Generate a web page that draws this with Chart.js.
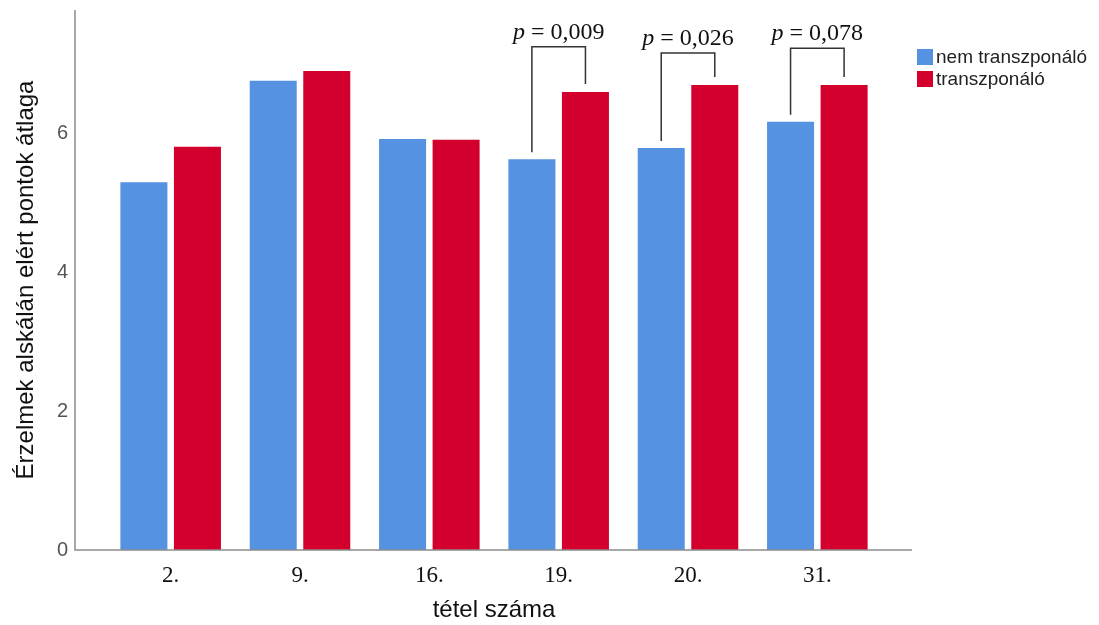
<!DOCTYPE html>
<html>
<head>
<meta charset="utf-8">
<script src="https://cdn.jsdelivr.net/npm/chart.js@4.4.0/dist/chart.umd.min.js"></script>
<style>
  body { margin: 0; background: #fff; }
  #wrap { width: 1099px; height: 625px; }
</style>
</head>
<body>
<div id="wrap"><canvas id="myChart" width="1099" height="625"></canvas></div>
<script>
var categories = ['2.', '9.', '16.', '19.', '20.', '31.'];
var nemTranszponalo = [5.30, 6.76, 5.92, 5.63, 5.79, 6.17];
var transzponalo = [5.81, 6.90, 5.91, 6.60, 6.70, 6.70];
var yTicks = [0, 2, 4, 6];

// significance brackets: category, p value, height of the bracket (axis units)
var pCats = ['19.', '20.', '31.'];
var pValues = ['0,009', '0,026', '0,078'];
var pHeights = [7.25, 7.16, 7.23];

var blue = '#5592e2';
var red = '#d3002e';
var axisGray = '#8c8c8c';

var ctx = document.getElementById('myChart').getContext('2d');

var extras = {
  id: 'extras',
  afterDatasetsDraw: function (chart) {
    var c = chart.ctx;
    var area = chart.chartArea;
    var y = chart.scales.y;

    c.save();
    // axis lines run a little past the category area
    c.strokeStyle = axisGray;
    c.lineWidth = 1.5;
    c.beginPath();
    c.moveTo(75, area.top);
    c.lineTo(75, area.bottom);
    c.lineTo(912, area.bottom);
    c.stroke();

    // p-value brackets
    var m0 = chart.getDatasetMeta(0);
    var m1 = chart.getDatasetMeta(1);
    c.strokeStyle = '#333';
    c.lineWidth = 1.5;
    c.fillStyle = '#111';
    c.textBaseline = 'alphabetic';
    pCats.forEach(function (cat, k) {
      var i = categories.indexOf(cat);
      var b = m0.data[i];
      var r = m1.data[i];
      var top = y.getPixelForValue(pHeights[k]);
      c.beginPath();
      c.moveTo(b.x, b.y - 7);
      c.lineTo(b.x, top);
      c.lineTo(r.x, top);
      c.lineTo(r.x, r.y - 8);
      c.stroke();

      var label = ' = ' + pValues[k];
      c.font = 'italic 24px "Liberation Serif"';
      var wp = c.measureText('p').width;
      c.font = '24px "Liberation Serif"';
      var wr = c.measureText(label).width;
      var x0 = (b.x + r.x) / 2 - (wp + wr) / 2;
      c.textAlign = 'left';
      c.font = 'italic 24px "Liberation Serif"';
      c.fillText('p', x0, top - 8);
      c.font = '24px "Liberation Serif"';
      c.fillText(label, x0 + wp, top - 8);
    });

    // legend
    var items = [
      { text: 'nem transzponáló', color: blue },
      { text: 'transzponáló', color: red }
    ];
    c.font = '19px "Liberation Sans"';
    c.textBaseline = 'middle';
    c.textAlign = 'left';
    items.forEach(function (it, k) {
      var cy = 57 + k * 22;
      c.fillStyle = it.color;
      c.fillRect(917, cy - 8, 16, 16);
      c.fillStyle = '#222';
      c.fillText(it.text, 936, cy + 1);
    });
    c.restore();
  }
};

var myChart = new Chart(ctx, {
  type: 'bar',
  data: {
    labels: categories,
    datasets: [{
      label: 'nem transzponáló',
      data: nemTranszponalo,
      backgroundColor: blue,
      borderWidth: 0
    }, {
      label: 'transzponáló',
      data: transzponalo,
      backgroundColor: red,
      borderWidth: 0
    }]
  },
  options: {
    responsive: false,
    animation: false,
    categoryPercentage: 0.828,
    barPercentage: 0.878,
    layout: {
      padding: { top: 10, right: 217, bottom: 0, left: 0 }
    },
    plugins: {
      legend: { display: false },
      tooltip: { enabled: false }
    },
    scales: {
      x: {
        grid: { display: false, drawTicks: false },
        border: { display: false },
        afterFit: function (scale) { scale.height = 75; },
        ticks: {
          padding: 12,
          color: '#111',
          font: { family: 'Liberation Serif', size: 23 }
        },
        title: {
          display: true,
          text: 'tétel száma',
          color: '#111',
          font: { family: 'Liberation Sans', size: 24 },
          padding: { top: 0, bottom: 0 }
        }
      },
      y: {
        min: 0,
        max: 7.78,
        grid: { display: false, drawTicks: false },
        border: { display: false },
        afterFit: function (scale) {
          scale.width = 106;
          scale.paddingTop = 0;
          scale.paddingBottom = 0;
        },
        afterBuildTicks: function (scale) {
          scale.ticks = yTicks.map(function (v) { return { value: v }; });
        },
        ticks: {
          padding: 38,
          color: '#555',
          font: { family: 'Liberation Sans', size: 20 }
        },
        title: {
          display: true,
          text: 'Érzelmek alskálán elért pontok átlaga',
          color: '#111',
          font: { family: 'Liberation Sans', size: 24 },
          padding: { top: 12, bottom: 0 }
        }
      }
    }
  },
  plugins: [extras]
});
</script>
</body>
</html>
